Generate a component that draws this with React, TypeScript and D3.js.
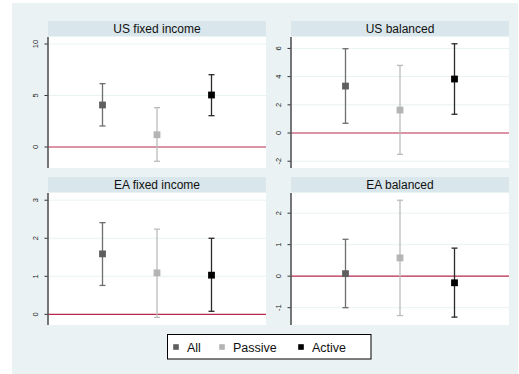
import React from "react";
import * as d3 from "d3";

const panelTitles = ["US fixed income", "US balanced", "EA fixed income", "EA balanced"];
const seriesNames = ["All", "Passive", "Active"];
// estimates per panel: [All, Passive, Active]
const estimates = [
  [4.08, 1.19, 5.05],
  [3.33, 1.63, 3.83],
  [1.59, 1.09, 1.03],
  [0.08, 0.58, -0.21],
];
const lowerCI = [
  [2.04, -1.39, 3.04],
  [0.69, -1.51, 1.33],
  [0.76, -0.08, 0.08],
  [-1.0, -1.25, -1.3],
];
const upperCI = [
  [6.15, 3.82, 7.02],
  [5.98, 4.8, 6.33],
  [2.41, 2.24, 2.0],
  [1.17, 2.41, 0.89],
];
const yTicks = [
  [0, 5, 10],
  [-2, 0, 2, 4, 6],
  [0, 1, 2, 3],
  [-1, 0, 1, 2],
];
const yDomains = [
  [-2.04, 10.68],
  [-2.48, 6.81],
  [-0.28, 3.19],
  [-1.55, 2.64],
];

const markerColors = ["#5f5f5f", "#b4b4b4", "#000000"];
const barColors = ["#6e6e6e", "#bcbcbc", "#2a2a2a"];

const colX = [
  [48, 266],
  [291, 509],
];
const rowY = [
  { t0: 21, t1: 36, p0: 37, p1: 168 },
  { t0: 177, t1: 192, p0: 193, p1: 325 },
];

const font = "Arial, 'Liberation Sans', Helvetica, sans-serif";

export default function App() {
  return (
    <svg
      width={519}
      height={374}
      style={{ position: "absolute", left: 0, top: 0 }}
    >
      <rect x={0} y={0} width={519} height={374} fill="#ffffff" />
      <rect x={12} y={3} width={506} height={371} fill="#eaf2f3" />
      {panelTitles.map((title, i) => {
        const c = colX[i % 2];
        const r = rowY[Math.floor(i / 2)];
        const y = d3.scaleLinear().domain(yDomains[i]).range([r.p1, r.p0]);
        const x = d3.scaleLinear().domain([0, 4]).range([c[0], c[1]]);
        return (
          <g key={title}>
            <rect x={c[0]} y={r.t0} width={c[1] - c[0]} height={r.t1 - r.t0} fill="#d9e6eb" />
            <text
              x={(c[0] + c[1]) / 2}
              y={(r.t0 + r.t1) / 2 + 4.5}
              textAnchor="middle"
              fontFamily={font}
              fontSize={12}
              fill="#111"
            >
              {title}
            </text>
            <rect x={c[0]} y={r.p0} width={c[1] - c[0]} height={r.p1 - r.p0} fill="#ffffff" />
            {yTicks[i].map((t) => (
              <g key={t}>
                {t !== 0 && (
                  <line x1={c[0]} x2={c[1]} y1={y(t)} y2={y(t)} stroke="#eaf2f3" strokeWidth={1} />
                )}
                <line x1={c[0] - 3.5} x2={c[0]} y1={y(t)} y2={y(t)} stroke="#333" strokeWidth={1} />
                <text
                  transform={`translate(${c[0] - 10},${y(t)}) rotate(-90)`}
                  textAnchor="middle"
                  fontFamily={font}
                  fontSize={7.5}
                  fill="#222"
                >
                  {t}
                </text>
              </g>
            ))}
            <line x1={c[0]} x2={c[1]} y1={y(0)} y2={y(0)} stroke="#b8284c" strokeWidth={1.1} />
            <line x1={c[0]} x2={c[0]} y1={r.p0} y2={r.p1} stroke="#555" strokeWidth={1.6} />
            {seriesNames.map((s, j) => {
              const cx = x(j + 1);
              const lo = y(lowerCI[i][j]);
              const hi = y(upperCI[i][j]);
              const py = y(estimates[i][j]);
              return (
                <g key={s}>
                  <line x1={cx} x2={cx} y1={hi} y2={lo} stroke={barColors[j]} strokeWidth={1.3} />
                  <line x1={cx - 3} x2={cx + 3} y1={hi} y2={hi} stroke={barColors[j]} strokeWidth={1.3} />
                  <line x1={cx - 3} x2={cx + 3} y1={lo} y2={lo} stroke={barColors[j]} strokeWidth={1.3} />
                  <rect x={cx - 3.4} y={py - 3.4} width={6.8} height={6.8} fill={markerColors[j]} />
                </g>
              );
            })}
          </g>
        );
      })}
      <rect x={167.5} y={334.5} width={203.5} height={24.5} fill="#ffffff" stroke="#000" strokeWidth={1} />
      {seriesNames.map((s, j) => {
        const mx = [176, 222, 301][j];
        return (
          <g key={s}>
            <rect x={mx - 2.8} y={347 - 2.8} width={5.6} height={5.6} fill={markerColors[j]} />
            <text x={mx + 11} y={351.8} fontFamily={font} fontSize={12.5} fill="#111">
              {s}
            </text>
          </g>
        );
      })}
    </svg>
  );
}
